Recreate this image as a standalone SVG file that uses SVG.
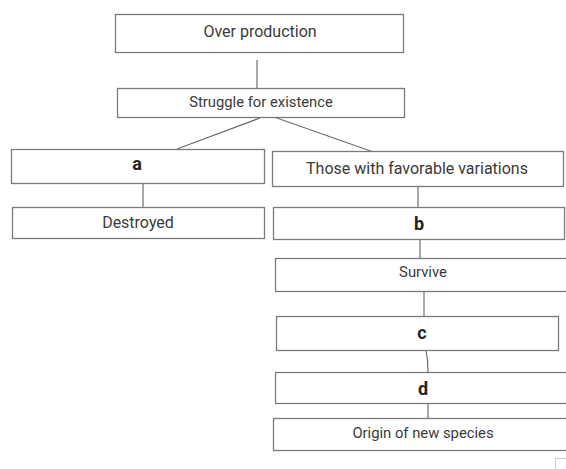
<svg xmlns="http://www.w3.org/2000/svg" width="566" height="469" viewBox="0 0 566 469">
<style>
.box{fill:#ffffff;stroke:#7a7a7a;stroke-width:1.3}
.ln{stroke:#6e6e6e;stroke-width:1.2;fill:none}
text{font-family:Roboto,"Liberation Sans",sans-serif;fill:#3a3a3a;text-anchor:middle}
.t{font-size:16px}
.s{font-size:14.8px}
.L{font-size:18px;font-weight:bold;fill:#222}
</style>
<rect width="566" height="469" fill="#ffffff"/>
<g id="connectors">
<line class="ln" x1="257" y1="60" x2="257" y2="88"/>
<line class="ln" x1="260" y1="118" x2="177" y2="149"/>
<line class="ln" x1="274" y1="117" x2="379" y2="154"/>
<line class="ln" x1="143" y1="183" x2="143" y2="207"/>
<line class="ln" x1="418" y1="186" x2="418" y2="207"/>
<line class="ln" x1="420" y1="240" x2="420" y2="258"/>
<line class="ln" x1="424" y1="291" x2="424" y2="316"/>
<path class="ln" d="M426 350 Q428 360 428 372"/>
<line class="ln" x1="428" y1="403" x2="428" y2="418"/>
</g>
<g id="n1"><rect class="box" x="115.5" y="14.5" width="288" height="38"/><text class="t" x="260" y="37">Over production</text></g>
<g id="n2"><rect class="box" x="117.5" y="88.5" width="287" height="29"/><text class="s" x="261" y="107">Struggle for existence</text></g>
<g id="na"><rect class="box" x="11.5" y="149.5" width="253" height="34"/><text class="L" x="137" y="170">a</text></g>
<g id="nd1"><rect class="box" x="12.5" y="207.5" width="252" height="31"/><text class="t" x="138" y="228">Destroyed</text></g>
<g id="nfav"><rect class="box" x="272.5" y="151.5" width="291" height="35"/><text class="t" x="417" y="174">Those with favorable variations</text></g>
<g id="nb"><rect class="box" x="273.5" y="207.5" width="291" height="32"/><text class="L" x="419" y="230">b</text></g>
<g id="nsurv"><rect class="box" x="275.5" y="258.5" width="300" height="33"/><text class="s" x="423" y="277">Survive</text></g>
<g id="nc"><rect class="box" x="276.5" y="316.5" width="282" height="34"/><text class="L" x="422" y="339">c</text></g>
<g id="ndd"><rect class="box" x="275.5" y="372.5" width="300" height="31"/><text class="L" x="423" y="395">d</text></g>
<g id="norig"><rect class="box" x="273.5" y="418.5" width="300" height="32"/><text class="s" x="423" y="438">Origin of new species</text></g>
<rect x="555.5" y="458.5" width="14" height="14" fill="none" stroke="#cccccc" stroke-width="1"/>
</svg>
